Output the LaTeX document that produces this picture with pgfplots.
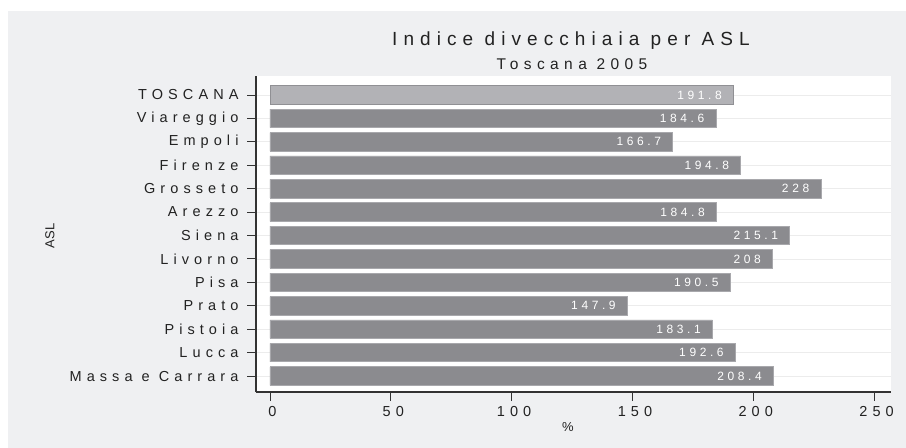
\documentclass[border=0pt]{standalone}
\usepackage{pgfplots}
\pgfplotsset{compat=1.18}
\usepackage{fontspec}
\setmainfont{Liberation Sans}
\newfontfamily\spaced[LetterSpace=35]{Liberation Sans}
\newfontfamily\spacedt[LetterSpace=32]{Liberation Sans}
\newfontfamily\spacedv[LetterSpace=30]{Liberation Sans}
\definecolor{bgc}{HTML}{EFF0F2}
\definecolor{barc}{HTML}{8B8B8F}
\definecolor{baredge}{HTML}{A8A8AC}
\definecolor{totc}{HTML}{B2B2B6}
\definecolor{totedge}{HTML}{909094}
\definecolor{axc}{HTML}{333333}
\definecolor{gridc}{HTML}{ECECEC}
\definecolor{txt}{HTML}{222222}
\begin{document}
\begin{tikzpicture}
\fill[white] (0bp,0bp) rectangle (906bp,-448bp);
\fill[bgc] (8bp,-11bp) rectangle (906bp,-448bp);
\begin{axis}[
  at={(256bp,-392bp)}, anchor=south west,
  scale only axis, width=635bp, height=316bp,
  xmin=-5.79, xmax=257.0, ymin=-0.683, ymax=12.81,
  axis background/.style={fill=white},
  axis lines=left, axis line style={-, axc, line width=1.1bp},
  xtick={0,50,100,150,200,250},
  xticklabels={0,50,100,150,200,250},
  ytick={0,...,12},
  yticklabels={Massa e Carrara,Lucca,Pistoia,Prato,Pisa,Livorno,Siena,Arezzo,Grosseto,Firenze,Empoli,Viareggio,TOSCANA},
  tick align=outside, major tick length=9bp,
  tick style={axc, line width=0.9bp},
  ymajorgrids, grid style={gridc, line width=0.8bp},
  xticklabel style={font=\spaced\fontsize{14.5bp}{16bp}\selectfont, text=txt, yshift=-2bp, xshift=2.5bp},
  yticklabel style={font=\spaced\fontsize{14.5bp}{16bp}\selectfont, text=txt, xshift=-5bp},
  xbar, bar width=18.5bp, bar shift=0pt,
  nodes near coords,
  point meta=explicit symbolic,
  every node near coord/.append style={anchor=east, xshift=-8bp, text=white, font=\spacedv\fontsize{12bp}{14bp}\selectfont},
  clip=false,
]
\addplot[fill=barc, draw=baredge, line width=0.8bp] coordinates {
 (208.4,0) [208.4]
 (192.6,1) [192.6]
 (183.1,2) [183.1]
 (147.9,3) [147.9]
 (190.5,4) [190.5]
 (208,5) [208]
 (215.1,6) [215.1]
 (184.8,7) [184.8]
 (228,8) [228]
 (194.8,9) [194.8]
 (166.7,10) [166.7]
 (184.6,11) [184.6]
};
\addplot[fill=totc, draw=totedge, line width=0.8bp] coordinates {
 (191.8,12) [191.8]
};
\end{axis}
\node[anchor=base, text=txt, font=\spacedt\fontsize{19bp}{22bp}\selectfont] at (571bp,-45.3bp) {Indice divecchiaia per ASL};
\node[anchor=base, text=txt, font=\spaced\fontsize{15.5bp}{18bp}\selectfont] at (572bp,-69bp) {Toscana 2005};
\node[anchor=base, text=txt, font=\fontsize{13bp}{15bp}\selectfont] at (568bp,-431.5bp) {\%};
\node[rotate=90, text=txt, font=\fontsize{13bp}{15bp}\selectfont] at (50bp,-236bp) {ASL};
\end{tikzpicture}
\end{document}
